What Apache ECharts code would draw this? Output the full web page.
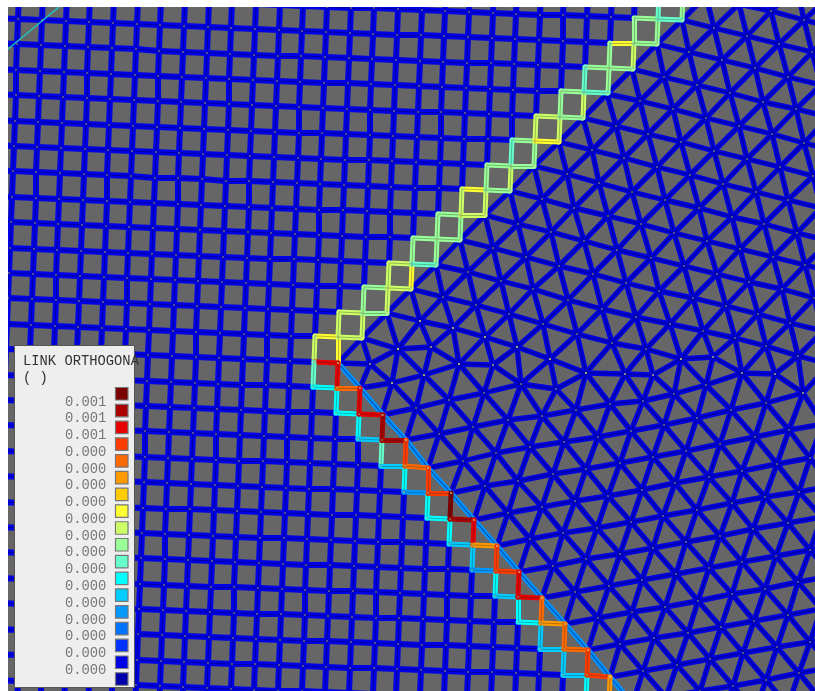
<!DOCTYPE html>
<html><head><meta charset="utf-8">
<style>html,body{margin:0;padding:0;background:#fff}#c{width:815px;height:691px}</style>
<script src="https://cdn.jsdelivr.net/npm/echarts@6/dist/echarts.min.js"></script>
</head><body><div id="c"></div>
<script>
// Legend
const legendTitle = ['LINK ORTHOGONA', '( )'];
const legendColors = ['#7a0000','#aa0000','#e60000','#ff3c00','#ff6a00','#ff9900','#ffcc00','#ffff33','#ccff66','#99ff99','#66ffcc','#00ffff','#00ccff','#0099ff','#0073ff','#0033ff','#0000e6','#0000aa'];
const legendValues = ['0.001','0.001','0.001','0.000','0.000','0.000','0.000','0.000','0.000','0.000','0.000','0.000','0.000','0.000','0.000','0.000','0.000'];

// Quad mesh node positions, row by row
const quadX = [
[-3,20,44,68,91,115,139,162,186,210,233,257,281,304,328,352,375,399,423,446,470,494,517,541,564,588,612,635,659,683],
[-4,19,43,67,90,114,138,161,185,209,232,256,280,303,327,351,374,398,422,445,469,493,516,540,563,587,611,634,658,682],
[-5,18,42,66,89,113,137,160,184,208,231,255,279,302,326,350,373,397,421,444,468,492,515,539,563,586,610,634,657],
[-6,17,41,65,88,112,136,159,183,207,230,254,278,301,325,349,372,396,420,443,467,491,514,538,562,585,609,633],
[-7,16,40,64,87,111,135,158,182,206,229,253,277,300,324,348,371,395,419,442,466,490,513,537,561,584,608],
[-8,16,39,63,87,110,134,158,181,205,229,252,276,299,323,347,370,394,418,441,465,489,512,536,560,583],
[-9,15,38,62,86,109,133,157,180,204,228,251,275,299,322,346,370,393,417,441,464,488,512,535,559],
[-10,14,37,61,85,108,132,156,179,203,227,250,274,298,321,345,369,392,416,440,463,487,511,534],
[-11,13,36,60,84,107,131,155,178,202,226,249,273,297,320,344,368,391,415,439,462,486,510],
[-12,12,36,59,83,107,130,154,178,201,225,249,272,296,319,343,367,390,414,438,461,485],
[-13,11,35,58,82,106,129,153,177,200,224,248,271,295,319,342,366,390,413,437,460],
[-14,10,34,57,81,105,128,152,176,199,223,247,270,294,318,341,365,389,412,436],
[-15,9,33,56,80,104,127,151,175,198,222,246,269,293,317,340,364,388,411],
[-16,8,32,56,79,103,127,150,174,197,221,245,268,292,316,339,363,387],
[-17,7,31,55,78,102,126,149,173,196,220,244,267,291,315,338,362],
[-17,6,30,54,77,101,125,148,172,196,219,243,267,290,314,338],
[-18,5,29,53,76,100,124,147,171,195,218,242,266,289,313,337,360],
[-19,4,28,52,75,99,123,146,170,194,217,241,265,288,312,336,359,383],
[-20,3,27,51,74,98,122,145,169,193,216,240,264,287,311,335,358,382,406],
[-21,3,26,50,74,97,121,145,168,192,216,239,263,287,310,334,358,381,405,428],
[-22,2,25,49,73,96,120,144,167,191,215,238,262,286,309,333,357,380,404,428,451],
[-23,1,24,48,72,95,119,143,166,190,214,237,261,285,308,332,356,379,403,427,450,474],
[-24,0,23,47,71,94,118,142,165,189,213,236,260,284,307,331,355,378,402,426,449,473,497],
[-25,-1,23,46,70,94,117,141,165,188,212,235,259,283,306,330,354,377,401,425,448,472,496,519],
[-26,-2,22,45,69,93,116,140,164,187,211,234,258,282,305,329,353,376,400,424,447,471,495,518,542],
[-27,-3,21,44,68,92,115,139,163,186,210,234,257,281,305,328,352,376,399,423,447,470,494,518,541,565],
[-28,-4,20,43,67,91,114,138,162,185,209,233,256,280,304,327,351,375,398,422,446,469,493,517,540,564,588],
[-29,-5,19,42,66,90,113,137,161,184,208,232,255,279,303,326,350,374,397,421,445,468,492,516,539,563,587,610],
[-30,-6,18,41,65,89,112,136,160,183,207,231,254,278,302,325,349,373,396,420,444,467,491,515,538,562,586,609,633],
[-30,-7,17,41,64,88,112,135,159,183,206,230,254,277,301,325,348,372,396,419,443,467,490,514,537,561,585,608,632,656]
];
const quadY = [
[-33,-32,-31,-30,-29,-28,-27,-26,-25,-24,-23,-21,-20,-20,-19,-18,-17,-16,-15,-14,-13,-12,-11,-10,-9,-8,-7,-7,-6,-5],
[-8,-7,-5,-4,-3,-2,-1,0,1,2,3,4,5,6,7,8,8,9,10,11,12,13,14,15,15,16,17,18,19,20],
[18,19,20,21,22,23,24,25,26,27,28,29,30,31,32,33,34,35,35,36,37,38,39,40,41,42,43,43,44],
[43,44,45,46,47,48,49,51,52,53,54,55,56,56,57,58,59,60,61,62,63,63,64,65,66,67,68,69],
[69,70,71,72,73,74,75,76,77,78,79,80,81,82,83,83,84,85,86,87,88,89,90,91,91,92,93],
[94,95,96,97,98,99,100,101,102,103,104,105,106,107,108,109,110,111,112,112,113,114,115,116,117,118],
[120,121,122,123,124,125,126,127,128,129,130,131,132,133,133,134,135,136,137,138,139,139,140,141,142],
[145,146,147,148,149,150,151,152,153,154,155,156,157,158,159,160,160,161,162,163,164,165,166,166],
[170,171,172,173,174,175,176,178,178,179,181,181,182,183,184,185,186,187,188,188,189,190,191],
[196,197,198,199,200,201,202,203,204,205,206,207,208,209,210,210,211,212,213,214,215,215],
[221,222,223,224,225,226,227,228,229,230,231,232,233,234,235,236,237,237,238,239,240],
[247,248,249,250,251,252,253,254,255,256,257,258,259,259,260,261,262,263,264,265],
[272,273,274,275,276,277,278,279,280,281,282,283,284,285,286,286,287,288,289],
[297,298,299,300,301,302,303,304,305,306,307,308,309,310,311,312,313,313],
[323,324,325,326,327,328,329,330,331,332,333,334,335,336,336,337,338],
[348,349,350,351,352,353,354,355,356,357,358,359,360,361,362,363],
[374,375,376,377,378,379,380,381,382,383,384,385,385,386,387,388,388],
[399,400,401,402,403,404,405,406,407,408,409,410,411,412,412,413,414,415],
[424,425,426,427,428,429,430,431,432,433,434,435,436,437,438,439,439,440,440],
[450,451,452,453,454,455,456,457,458,459,460,461,461,462,463,464,465,466,466,468],
[475,476,477,478,479,480,481,482,483,484,485,486,487,488,489,489,490,491,492,493,493],
[501,502,503,504,505,506,507,508,509,509,510,511,512,513,514,515,515,516,517,518,519,520],
[526,527,528,529,530,531,532,533,534,535,536,537,538,538,539,540,541,542,542,543,544,545,546],
[552,552,553,554,555,556,557,558,559,560,561,562,563,564,565,565,566,567,568,569,569,570,571,572],
[577,578,579,580,581,582,583,584,585,586,587,587,588,589,590,591,591,592,593,594,595,596,596,597,598],
[602,603,604,605,606,607,608,609,610,611,612,613,614,614,615,616,617,618,618,619,620,621,622,622,623,624],
[628,629,630,631,632,633,633,634,635,636,637,638,639,640,641,641,642,643,644,645,645,646,647,648,649,649,650],
[653,654,655,656,657,658,659,660,661,662,663,664,664,665,666,667,668,668,669,670,671,672,672,673,674,675,675,677],
[679,680,681,681,682,683,684,685,686,687,688,689,690,691,691,692,693,694,695,695,696,697,698,699,699,700,701,702,703],
[704,705,706,707,708,709,710,711,712,713,714,715,715,716,717,718,719,719,720,721,722,723,723,724,725,726,727,727,728,729]
];

// Triangle mesh above the fault: rows of x,y pairs
const triUpper = [
[731,-29,764,-21,797,-13,830,-4],
[706,-4,739,4,771,11,804,20,837,28],
[682,20,714,28,747,36,779,44,812,52,845,60],
[657,44,689,52,722,60,755,68,788,77,821,85],
[632,69,664,77,697,85,730,93,763,102,796,109,829,117],
[607,94,640,101,673,109,706,118,739,126,772,134,804,143,837,151],
[583,118,616,126,648,134,681,142,714,151,747,159,780,167,813,176,846,184],
[559,142,592,150,624,158,657,167,690,175,723,184,756,192,788,200,821,208],
[534,166,567,174,599,183,632,192,665,200,699,208,732,217,764,224,797,233,830,241],
[510,191,542,199,574,208,608,216,641,224,674,233,707,241,740,249,773,257,805,265,838,273],
[485,215,518,224,551,232,584,241,617,250,651,258,684,266,717,274,749,282,782,289,814,298,847,306],
[460,240,493,248,526,257,559,266,593,274,626,283,659,291,693,298,726,306,758,314,790,323,823,331],
[436,265,468,272,501,281,533,289,568,300,602,309,636,317,670,324,703,331,735,338,766,346,798,356,830,364],
[411,289,443,297,476,305,509,314,543,324,577,334,612,343,646,349,681,359,713,357,742,373,775,374,803,393],
[387,313,420,321,453,328,485,337,517,347,550,359,586,373,625,374,653,375]
];
// Triangle mesh below the fault: rows of x,y pairs
const triLower = [
[382,415,416,408,449,400,484,393,521,384,556,389,586,373,625,374,653,375],
[406,440,439,434,473,427,508,420,542,416,576,410,610,404,643,401,674,394,706,385,742,373,775,374],
[428,468,463,461,496,453,530,447,564,442,598,437,631,431,664,425,697,418,731,410,766,403,803,393],
[451,493,485,486,518,481,553,474,586,469,620,463,653,457,686,451,720,444,755,437,789,430,823,424],
[474,520,508,513,542,507,575,501,608,496,642,490,675,483,709,477,742,471,777,464,810,458],
[497,546,530,539,563,533,597,528,631,522,663,516,697,510,732,503,765,497,799,492,832,486],
[519,572,553,566,586,559,620,554,653,548,686,542,720,536,753,529,788,523,822,517],
[542,598,575,592,609,586,642,580,676,574,709,568,742,562,776,556,810,550,844,544],
[565,624,598,618,632,612,665,607,698,601,732,594,765,589,798,582,832,576],
[588,650,620,644,654,638,688,633,721,627,754,621,788,615,821,609],
[610,677,643,671,677,665,710,659,743,653,777,647,810,642,844,636],
[633,703,666,697,700,691,733,686,766,680,799,673,833,667],
[655,730,688,724,722,718,755,712,788,706,821,700,855,694]
];
// Edges around the fault, x1,y1,x2,y2
const triFaultEdges = [
[681,359,674,394],[681,359,706,385],[713,357,706,385],
[387,313,362,338],[387,313,398,349],[420,321,398,349],[420,321,431,347],[453,328,431,347],[453,328,459,364],
[485,337,459,364],[485,337,493,365],[517,347,493,365],
[362,338,398,349],[398,349,431,347],[431,347,459,364],[459,364,493,365],
[362,338,338,363],[362,338,370,364],[398,349,370,364],[398,349,392,383],[398,349,424,375],[431,347,424,375],
[338,363,370,364],[370,364,392,383],[370,364,360,388],
[360,388,392,383],[392,383,424,375],[424,375,459,364],
[392,383,382,415],[392,383,416,408],[424,375,416,408],[424,375,449,400],[459,364,449,400],[459,364,484,393],
[493,365,484,393],[493,365,521,384],[517,347,521,384],[550,359,521,384],[550,359,556,389],[586,373,556,389]
];
// Light-blue seam along the triangle side of the lower staircase
const seamX = [338,360,383,406,428,451,474,497,519,542,565,588,610,632];
const seamY = [363,388,415,440,468,493,520,546,572,598,624,650,677,703];
// Thin teal line in the top left corner
const tealLine = [[8,49],[59,7]];

// Contour colour indices (into legendColors) of the mesh edges along the fault
// Upper squares from the apex upward: top, right, bottom, left
const upperSquares = [[7,7,2,8],[8,8,8,8],[9,8,9,9],[8,7,8,8],[9,9,10,9],[9,9,9,9],[7,8,8,8],[9,8,9,9],[9,9,9,10],[8,8,7,8],[9,8,9,9],[9,9,10,10],[7,8,9,9],[9,9,9,9],[9,9,10,10]];
const innerStair = [2,4,2,2,1,1,3,4,3,3,0,1,2,5,3,3,2,2,4,5,4,4,3,3,5];
const outerStair = [10,11,11,11,11,12,10,12,11,13,11,11,11,12,12,13,11,12,11,11,12,12,12,12,11,12];

// ---- build edges from the tables above ----
const P = (i,j) => { const r=j+2,k=i+3; return (quadX[r] && quadX[r][k]!==undefined) ? [quadX[r][k],quadY[r][k]] : null; };
const key = (a,b,c,d) => a+','+b+','+c+','+d;
const seamEdges = [], seamKeys = new Set();
function addSeam(a,b,c,d,ci){ const p=P(a,b),q=P(c,d); if(!p||!q) return; seamKeys.add(key(a,b,c,d)); seamEdges.push({coords:[p,q],lineStyle:{color:legendColors[ci]}}); }
upperSquares.forEach((s,n)=>{ const i=12+n,j=13-n;
  addSeam(i-1,j-1,i,j-1,s[0]); addSeam(i,j-1,i,j,s[1]); addSeam(i-1,j-1,i-1,j,s[3]); });
upperSquares.forEach((s,n)=>{ const i=12+n,j=13-n; addSeam(i-1,j,i,j,s[2]); });
function stair(i,j,cols){ cols.forEach((c,n)=>{ if(n%2===0){addSeam(i,j,i,j+1,c);j++;} else {addSeam(i,j,i+1,j,c);i++;} }); }
stair(11,13,outerStair); stair(12,13,innerStair);

const quadEdges=[], quadNodes=[];
for(let r=0;r<quadX.length;r++){ for(let k=0;k<quadX[r].length;k++){
  const i=k-3,j=r-2,p=[quadX[r][k],quadY[r][k]]; quadNodes.push(p);
  const q=P(i+1,j); if(q && !seamKeys.has(key(i,j,i+1,j))) quadEdges.push({coords:[p,q]});
  const s=P(i,j+1); if(s && !seamKeys.has(key(i,j,i,j+1))) quadEdges.push({coords:[p,s]});
}}
const triEdges=[], triNodes=[], seen=new Set();
const pt=(row,m)=> (m>=0 && m*2<row.length) ? [row[m*2],row[m*2+1]] : null;
function link(p,q){ if(!p||!q) return; const a=p.join(),b=q.join(),k=a<b?a+'|'+b:b+'|'+a; if(seen.has(k)) return; seen.add(k); triEdges.push({coords:[p,q]}); }
triUpper.forEach((row,r)=>{ const nx=triUpper[r+1];
  for(let m=0;m*2<row.length;m++){ const p=pt(row,m); triNodes.push(p);
    link(p,pt(row,m+1)); if(nx){ link(p,pt(nx,m)); link(p,pt(nx,m+1)); } }});
triLower.forEach((row,r)=>{ const nx=triLower[r+1];
  for(let m=0;m*2<row.length;m++){ const p=pt(row,m); triNodes.push(p);
    link(p,pt(row,m+1)); if(nx && m>0){ link(p,pt(nx,m-1)); link(p,pt(nx,m)); } }});
triFaultEdges.forEach(e=>{ link([e[0],e[1]],[e[2],e[3]]); triNodes.push([e[0],e[1]]); });
const seamLine=[]; for(let n=0;n+1<seamX.length;n++) seamLine.push({coords:[[seamX[n],seamY[n]],[seamX[n+1],seamY[n+1]]]});

const ln=(name,data,color,width,opacity)=>({type:'lines',name,coordinateSystem:'cartesian2d',data,polyline:false,silent:true,clip:true,
  progressive:0,animation:false,effect:{show:false},lineStyle:{color,width,opacity:opacity===undefined?1:opacity,cap:'round'}});

// ---- white margins and legend drawn on top ----
const mono='"Liberation Mono",monospace';
const legendEls=[
  {type:'rect',shape:{x:0,y:0,width:815,height:7},style:{fill:'#ffffff'},z:99},
  {type:'rect',shape:{x:0,y:0,width:8,height:691},style:{fill:'#ffffff'},z:99},
  {type:'rect',shape:{x:14.5,y:345.5,width:120,height:342},style:{fill:'#eeeeee',stroke:'#555555',lineWidth:1},z:100}];
legendTitle.forEach((t,n)=>legendEls.push({type:'text',x:23,y:361+n*17,style:{text:t,font:'13.8px '+mono,fill:'#333333',textVerticalAlign:'middle'},z:101}));
legendColors.forEach((c,n)=>legendEls.push({type:'rect',shape:{x:115.5,y:387.5+n*16.78,width:12.5,height:12.5},style:{fill:c,stroke:'#777777',lineWidth:1.2},z:101}));
legendValues.forEach((t,n)=>legendEls.push({type:'text',x:65,y:402+n*16.76,style:{text:t,font:'13.8px '+mono,fill:'#777777',textVerticalAlign:'middle'},z:101}));

const chart=echarts.init(document.getElementById('c'),null,{renderer:'canvas'});
chart.setOption({
  animation:false,
  backgroundColor:'#ffffff',
  grid:{left:8,top:7,right:0,bottom:0,show:true,backgroundColor:'#666666',borderWidth:0},
  xAxis:{type:'value',min:8,max:815,show:false},
  yAxis:{type:'value',min:7,max:691,inverse:true,show:false},
  tooltip:{show:false},
  series:[
    ln('quad',quadEdges,'#0000e6',6),
    ln('tri',triEdges,'#0000e0',5.4),
    ln('quadCore',quadEdges,'#000088',0.8),
    ln('triCore',triEdges,'#0000a8',1.6),
    ln('seam',seamLine,'#0090ff',5.4),
    ln('seamCore',seamLine,'#003c8c',1),
    ln('contour',seamEdges,'#ffff33',5),
    ln('contourCore',seamEdges.map(e=>({coords:e.coords})),'#222222',0.8,0.4),
    {type:'scatter',name:'nodes',data:quadNodes.concat(triNodes),symbolSize:1.6,silent:true,itemStyle:{color:'#e4e48c'},animation:false,progressive:0},
    ln('teal',[{coords:tealLine}],'#20c8c8',1.4)
  ],
  graphic:{elements:legendEls}
});
</script></body></html>
